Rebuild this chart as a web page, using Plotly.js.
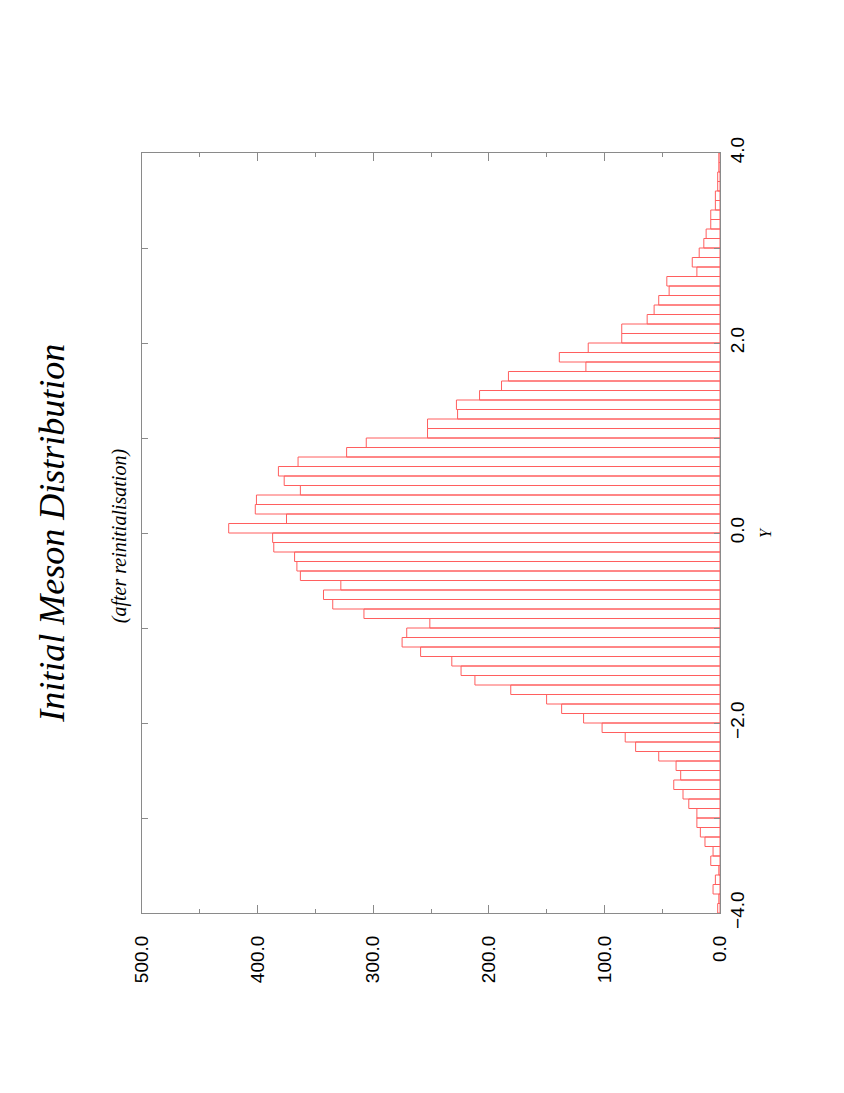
<!DOCTYPE html>
<html>
<head>
<meta charset="utf-8">
<script src="https://cdn.plot.ly/plotly-3.0.1.min.js"></script>
<style>
  html, body { margin: 0; padding: 0; background: #fff; }
  #meson_graph { width: 844px; height: 1093px; }
</style>
</head>
<body>
<div id="meson_graph"></div>
<script>
// histogram of Y, bins of 0.1 from -4.0 to 4.0
const bin_start = -4.0;
const bin_width = 0.1;
const counts = [
    2, 1, 6, 4, 1, 8, 6, 13, 17, 20,
    20, 27, 32, 40, 34, 38, 53, 73, 82, 102,
    118, 137, 150, 181, 212, 224, 232, 259, 275, 271,
    251, 308, 335, 343, 328, 363, 366, 368, 386, 387,
    425, 375, 402, 401, 363, 377, 382, 365, 323, 306,
    253, 253, 227, 228, 208, 189, 183, 116, 139, 114,
    85, 85, 63, 57, 53, 44, 46, 20, 24, 18,
    14, 12, 8, 8, 4, 4, 2, 2, 1, 1
];
const y_ticks = [-4, -2, 0, 2, 4];
const count_ticks = [0, 100, 200, 300, 400, 500];

const bin_centres = counts.map((c, i) => +(bin_start + (i + 0.5) * bin_width).toFixed(2));

const red_line = 'rgb(255,95,95)';
const frame_grey = '#8a8a8a';
const label_font = {family: 'Liberation Sans, Arial, sans-serif', size: 19, color: '#000'};
const serif_it = 'Liberation Serif, Times New Roman, serif';

const data = [{
    type: 'bar',
    orientation: 'h',
    y: bin_centres,
    x: counts,
    width: bin_width,
    marker: {color: 'rgba(255,255,255,0)', line: {color: red_line, width: 1}},
    hoverinfo: 'x+y'
}];

const layout = {
    width: 844,
    height: 1093,
    margin: {l: 142, r: 124, t: 153, b: 180},
    paper_bgcolor: '#fff',
    plot_bgcolor: '#fff',
    showlegend: false,
    bargap: 0,
    xaxis: {
        range: [500, 0],
        tickvals: count_ticks,
        ticktext: count_ticks.map(v => v.toFixed(1)),
        tickangle: -90,
        ticks: 'inside',
        ticklen: 8,
        tickcolor: frame_grey,
        ticklabelstandoff: 14,
        minor: {dtick: 50, ticks: 'inside', ticklen: 4, tickcolor: frame_grey},
        showline: true,
        linecolor: frame_grey,
        linewidth: 1,
        mirror: 'ticks',
        showgrid: false,
        zeroline: false,
        tickfont: label_font
    },
    yaxis: {
        side: 'right',
        range: [-4, 4],
        tickvals: y_ticks,
        ticktext: y_ticks.map(v => v.toFixed(1).replace('-', '\u2212')),
        tickangle: -90,
        ticks: 'inside',
        ticklen: 6,
        tickcolor: frame_grey,
        minor: {dtick: 1, ticks: 'inside', ticklen: 6, tickcolor: frame_grey},
        showline: true,
        linecolor: frame_grey,
        linewidth: 1,
        mirror: 'ticks',
        showgrid: false,
        zeroline: false,
        tickfont: label_font
    },
    annotations: [
        {
            text: '<i>Initial Meson Distribution</i>',
            xref: 'paper', yref: 'paper',
            x: -0.156, y: 0.5,
            xanchor: 'center', yanchor: 'middle',
            textangle: -90, showarrow: false,
            font: {family: serif_it, size: 36, color: '#000'}
        },
        {
            text: '<i>(after reinitialisation)</i>',
            xref: 'paper', yref: 'paper',
            x: -0.04, y: 0.497,
            xanchor: 'center', yanchor: 'middle',
            textangle: -90, showarrow: false,
            font: {family: serif_it, size: 20, color: '#000'}
        },
        {
            text: '<i>Y</i>',
            xref: 'paper', yref: 'paper',
            x: 1.078, y: 0.5,
            xanchor: 'center', yanchor: 'middle',
            textangle: -90, showarrow: false,
            font: {family: serif_it, size: 16, color: '#000'}
        }
    ]
};

Plotly.newPlot('meson_graph', data, layout, {displayModeBar: false, staticPlot: true});
</script>
</body>
</html>
